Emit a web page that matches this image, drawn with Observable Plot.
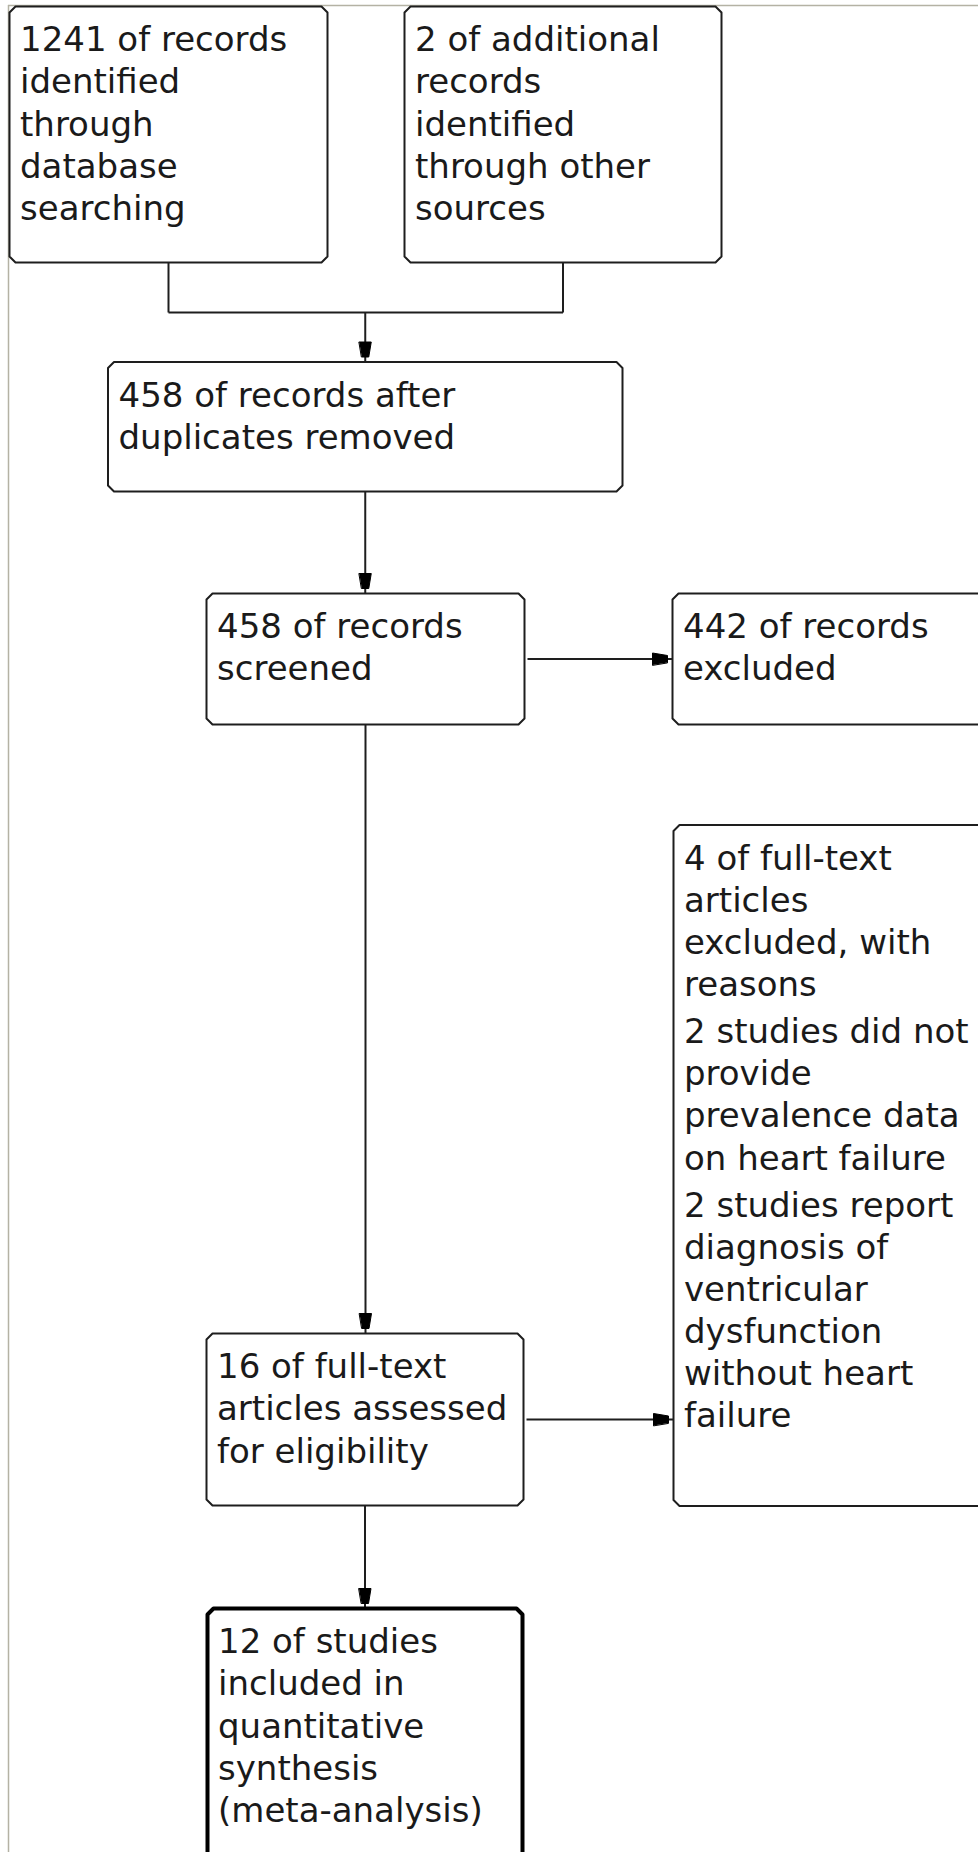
<!DOCTYPE html>
<html><head><meta charset="utf-8">
<script src="https://cdn.jsdelivr.net/npm/d3@7"></script>
<script src="https://cdn.jsdelivr.net/npm/@observablehq/plot@0.6"></script>
<style>html,body{margin:0;padding:0;background:#fff;overflow:hidden;} #chart svg{display:block}</style>
</head><body><div id="chart"></div>
<script>
// ---- data ----
const stageIds = ["database","other","dedup","screened","excluded","fulltext","ftExcluded","included"];
const stageCounts = [1241, 2, 458, 458, 442, 16, 4, 12];
const stageLabels = [
  "of records\nidentified\nthrough\ndatabase\nsearching",
  "of additional\nrecords\nidentified\nthrough other\nsources",
  "of records after\nduplicates removed",
  "of records\nscreened",
  "of records\nexcluded",
  "of full-text\narticles assessed\nfor eligibility",
  "of full-text\narticles\nexcluded, with\nreasons",
  "of studies\nincluded in\nquantitative\nsynthesis\n(meta-analysis)"
];
const reasonCounts = [2, 2];
const reasonLabels = [
  "studies did not\nprovide\nprevalence data\non heart failure",
  "studies report\ndiagnosis of\nventricular\ndysfunction\nwithout heart\nfailure"
];
const mergeSources = ["database", "other"];
const mergeTarget = "dedup";
const flows = [["dedup","screened"],["screened","excluded"],["screened","fulltext"],["fulltext","ftExcluded"],["fulltext","included"]];
const reasonsBox = "ftExcluded";
const finalBox = "included";

// ---- layout (pixel geometry of boxes: x1, x2, y1, y2) ----
const W = 978, H = 1852;
const layout = {
  database:   [9, 327, 6, 262],
  other:      [404, 721, 6, 262],
  dedup:      [107.5, 622, 361.5, 491],
  screened:   [206, 524, 593, 724],
  excluded:   [672, 1010, 593, 724],
  fulltext:   [206, 523, 1333, 1505],
  ftExcluded: [673, 1010, 824.5, 1505.5],
  included:   [207, 522, 1608, 1930]
};
const mergeY = 312;
const chamfer = 6, padX = 10.5, padTop = 15, fontSize = 34, lineStep = 42.1, paraGap = 5;

const box = id => { const [x1,x2,y1,y2] = layout[id]; return {x1,x2,y1,y2,cx:(x1+x2)/2,cy:(y1+y2)/2}; };

// box outlines (chamfered)
const outline = [];
stageIds.forEach(id => {
  const b = box(id), c = chamfer;
  [[b.x1+c,b.y1],[b.x2-c,b.y1],[b.x2,b.y1+c],[b.x2,b.y2-c],[b.x2-c,b.y2],[b.x1+c,b.y2],[b.x1,b.y2-c],[b.x1,b.y1+c]]
    .forEach(([x,y]) => outline.push({id, x, y, thick: id === finalBox}));
});

// text
const texts = stageIds.map((id,i) => {
  const b = box(id);
  return {x: b.x1 + padX, y: b.y1 + padTop, text: `${stageCounts[i]} ${stageLabels[i]}`};
});
{
  const b = box(reasonsBox);
  let lines = stageLabels[stageIds.indexOf(reasonsBox)].split("\n").length;
  reasonLabels.forEach((lab, k) => {
    texts.push({x: b.x1 + padX, y: b.y1 + padTop + lines*lineStep + (k+1)*paraGap, text: `${reasonCounts[k]} ${lab}`});
    lines += lab.split("\n").length;
  });
}

// connectors
const segs = [], heads = [];
function addHead(tx, ty, dx, dy, id) {
  const px = -dy, py = dx;
  const back = 20, front = 5, wb = 6, wf = 3.5;
  [[-back, wb],[-back,-wb],[-front,-wf],[-front,wf]].forEach(([a,w]) =>
    heads.push({id, x: tx + dx*a + px*w, y: ty + dy*a + py*w}));
}
{
  const s0 = box(mergeSources[0]), s1 = box(mergeSources[1]), t = box(mergeTarget);
  segs.push({x1:s0.cx,y1:s0.y2,x2:s0.cx,y2:mergeY});
  segs.push({x1:s1.cx,y1:s1.y2,x2:s1.cx,y2:mergeY});
  segs.push({x1:s0.cx,y1:mergeY,x2:s1.cx,y2:mergeY});
  segs.push({x1:t.cx,y1:mergeY,x2:t.cx,y2:t.y1});
  addHead(t.cx, t.y1, 0, 1, "m");
}
flows.forEach(([a,b2], i) => {
  const s = box(a), t = box(b2);
  if (t.x1 > s.x2) {
    segs.push({x1:s.x2+3,y1:s.cy,x2:t.x1,y2:s.cy});
    addHead(t.x1, s.cy, 1, 0, "f"+i);
  } else {
    segs.push({x1:s.cx,y1:s.y2,x2:s.cx,y2:t.y1});
    addHead(s.cx, t.y1, 0, 1, "f"+i);
  }
});

const ink = "#1e1e1e";
const chart = Plot.plot({
  width: W, height: H, margin: 0,
  x: {type: "linear", domain: [0, W], range: [0, W], axis: null},
  y: {type: "linear", domain: [0, H], range: [0, H], axis: null},
  style: {overflow: "hidden", background: "white"},
  marks: [
    Plot.ruleY([5], {x1: 8, x2: W, stroke: "#b4b2a4", strokeWidth: 1.5}),
    Plot.ruleX([8], {y1: 5, y2: H, stroke: "#b4b2a4", strokeWidth: 1.5}),
    Plot.link(segs, {x1:"x1", y1:"y1", x2:"x2", y2:"y2", stroke: ink, strokeWidth: 2}),
    Plot.line(outline.filter(d => !d.thick), {x:"x", y:"y", z:"id", curve:"linear-closed", fill:"white", stroke: ink, strokeWidth: 2}),
    Plot.line(outline.filter(d => d.thick), {x:"x", y:"y", z:"id", curve:"linear-closed", fill:"white", stroke: "#000", strokeWidth: 4}),
    Plot.line(heads, {x:"x", y:"y", z:"id", curve:"linear-closed", fill: "#000", stroke: "#000", strokeWidth: 1}),
    Plot.text(texts, {x:"x", y:"y", text:"text", textAnchor:"start", lineAnchor:"top", fontSize, lineHeight: lineStep/fontSize, fontFamily: "DejaVu Sans", fill: "#1a1a1a"})
  ]
});
document.getElementById("chart").appendChild(chart);
</script>
</body></html>
